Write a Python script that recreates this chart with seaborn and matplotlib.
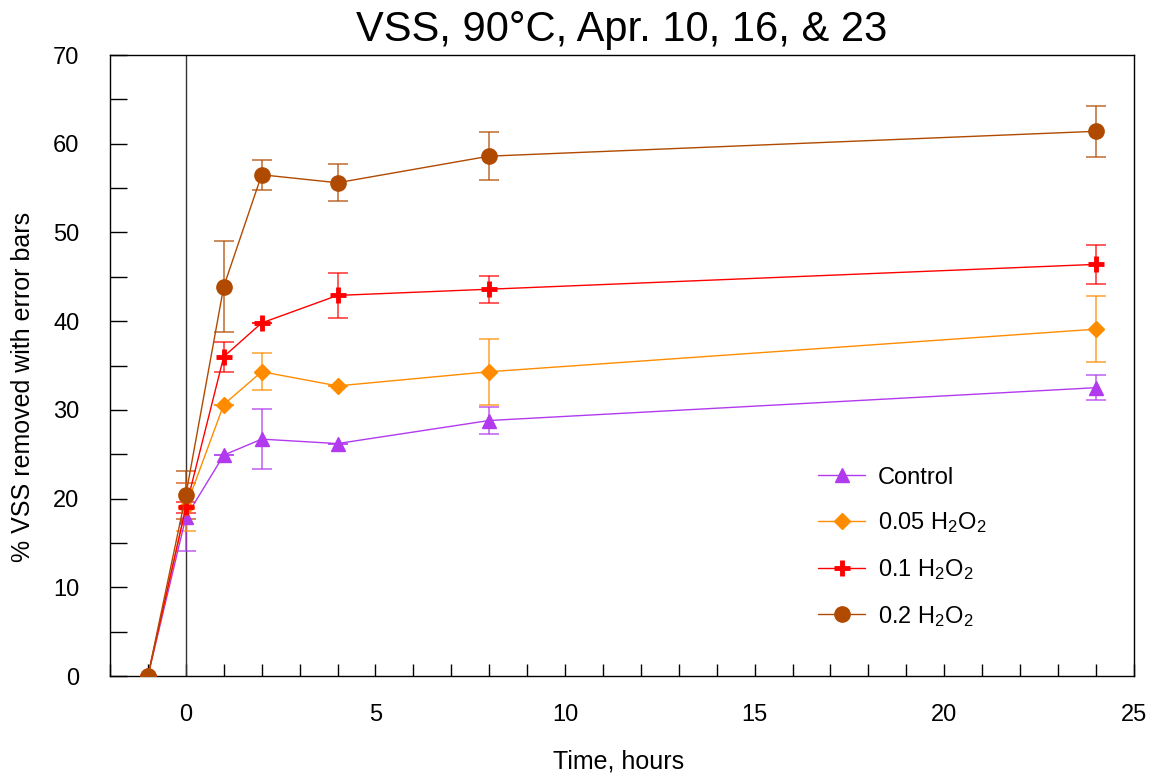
import matplotlib
matplotlib.use("Agg")
import matplotlib.pyplot as plt
import seaborn as sns
import pandas as pd
from matplotlib.ticker import MultipleLocator
from matplotlib import font_manager

# ---- data ----
time_h = [-1, 0, 1, 2, 4, 8, 24]
series_names = ["Control", "0.05 H$_2$O$_2$", "0.1 H$_2$O$_2$", "0.2 H$_2$O$_2$"]
control = [0.0, 17.9, 24.9, 26.7, 26.2, 28.8, 32.5]
control_err = [0.0, 3.8, 0.0, 3.4, 0.0, 1.5, 1.4]
h2o2_005 = [0.0, 19.0, 30.6, 34.3, 32.7, 34.3, 39.1]
h2o2_005_err = [0.0, 2.7, 0.0, 2.1, 0.0, 3.7, 3.7]
h2o2_01 = [0.0, 19.0, 36.0, 39.8, 42.9, 43.6, 46.4]
h2o2_01_err = [0.0, 0.6, 1.7, 0.0, 2.5, 1.5, 2.2]
h2o2_02 = [0.0, 20.4, 43.9, 56.5, 55.6, 58.6, 61.4]
h2o2_02_err = [0.0, 2.7, 5.1, 1.7, 2.1, 2.7, 2.9]

values = [control, h2o2_005, h2o2_01, h2o2_02]
errors = [control_err, h2o2_005_err, h2o2_01_err, h2o2_02_err]
colors = ["#B23AEE", "#FF8C00", "#FF0000", "#B04A00"]
markers = ["^", "D", "+", "o"]
msizes = [10, 8, 12, 11]
medges = [1, 1, 3.5, 1]

sns.set_style("white")
plt.rcParams["font.family"] = ["Liberation Sans", "DejaVu Sans"]
plt.rcParams["mathtext.fontset"] = "custom"
plt.rcParams["mathtext.rm"] = "Liberation Sans"
plt.rcParams["mathtext.it"] = "Liberation Sans:italic"
for k in ["text.color", "axes.labelcolor", "xtick.color", "ytick.color"]:
    plt.rcParams[k] = "black"

names = {f.name for f in font_manager.fontManager.ttflist}
narrow = "Liberation Sans Narrow" if "Liberation Sans Narrow" in names else "Liberation Sans"

fig = plt.figure(figsize=(11.53, 7.78), dpi=100)
ax = fig.add_axes([0.0954, 0.1311, 0.888, 0.7982])

ax.axvline(0, color="#333333", lw=1.0, zorder=1)

for name, v, e, c, m, ms, mew in zip(series_names, values, errors, colors, markers, msizes, medges):
    df = pd.DataFrame({"t": time_h, "v": v})
    sns.lineplot(data=df, x="t", y="v", ax=ax, color=c, marker=m, markersize=ms,
                 markeredgecolor=c, markeredgewidth=mew, linewidth=1.0, label=name, zorder=3)
    ax.errorbar(time_h[1:], v[1:], yerr=e[1:], fmt="none", ecolor=c, alpha=0.75,
                elinewidth=1.2, capsize=7, capthick=1.2, zorder=2)

ax.set_xlim(-2, 25)
ax.set_ylim(0, 70)
ax.xaxis.set_major_locator(MultipleLocator(5))
ax.xaxis.set_minor_locator(MultipleLocator(1))
ax.yaxis.set_major_locator(MultipleLocator(10))
ax.yaxis.set_minor_locator(MultipleLocator(5))
ax.tick_params(axis="x", which="both", direction="in", length=9, width=1,
               pad=20, labelsize=17, top=False, bottom=True)
ax.tick_params(axis="y", which="both", direction="in", length=12, width=1,
               pad=22, labelsize=17, left=True, right=False)
for lbl in ax.get_xticklabels():
    lbl.set_fontfamily([narrow, "DejaVu Sans"])
for s in ax.spines.values():
    s.set_color("black")
    s.set_linewidth(1.0)

ax.set_xlabel("Time, hours", fontsize=18)
ax.set_ylabel("% VSS removed with error bars", fontsize=18)
ax.xaxis.set_label_coords(0.497, -0.118)
ax.yaxis.set_label_coords(-0.073, 0.465)
ax.set_title("VSS, 90°C, Apr. 10, 16, & 23", fontsize=30, pad=10)

leg = ax.legend(loc="upper left", bbox_to_anchor=(0.68, 0.356), frameon=False,
                fontsize=17, handlelength=2.0, labelspacing=0.92, borderpad=0,
                handletextpad=0.55)

fig.savefig("out.png", dpi=100)
